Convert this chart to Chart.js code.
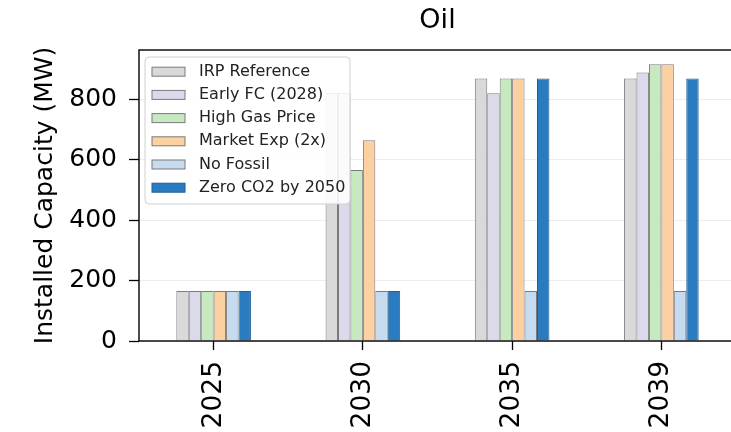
<!DOCTYPE html>
<html>
<head>
<meta charset="utf-8">
<title>Oil</title>
<script src="https://cdn.jsdelivr.net/npm/chart.js@4/dist/chart.umd.min.js"></script>
<style>
  html, body { margin: 0; padding: 0; overflow: hidden; background: #fff; }
  #wrap { width: 741px; height: 432px; }
</style>
</head>
<body>
<div id="wrap"><canvas id="c" width="741" height="432"></canvas></div>
<script>
// Installed oil capacity (MW) by scenario and year
const categories = ['2025', '2030', '2035', '2039'];
const irpReference = [165, 820, 868, 868];
const earlyFC      = [165, 820, 819, 888];
const highGasPrice = [165, 565, 868, 915];
const marketExp2x  = [165, 664, 868, 915];
const noFossil     = [165, 165, 165, 165];
const zeroCO2_2050 = [165, 165, 868, 868];

const seriesNames = ['IRP Reference', 'Early FC (2028)', 'High Gas Price', 'Market Exp (2x)', 'No Fossil', 'Zero CO2 by 2050'];
const seriesValues = [irpReference, earlyFC, highGasPrice, marketExp2x, noFossil, zeroCO2_2050];
const fillColors = ['#d9d9d9', '#dadaeb', '#c7e9c0', '#fdd0a2', '#c6dbef', '#2b7bc0'];
const edgeColors = ['#7a7a7a', '#7a7a7a', '#7a7a7a', '#7a7a7a', '#7a7a7a', '#1f5f96'];

const yTickValues = [0, 200, 400, 600, 800];
const yMax = 962;

const FONT = "'DejaVu Sans', sans-serif";

const whiteBackground = {
  id: 'whiteBackground',
  beforeDraw(chart) {
    const ctx = chart.ctx;
    ctx.save();
    ctx.fillStyle = '#ffffff';
    ctx.fillRect(0, 0, chart.width, chart.height);
    ctx.restore();
  }
};

// axes frame plus a boxed legend in the upper-left corner of the plot
const frameAndLegend = {
  id: 'frameAndLegend',
  afterDatasetsDraw(chart) {
    const ctx = chart.ctx;
    const a = chart.chartArea;
    ctx.save();
    ctx.strokeStyle = '#000';
    ctx.lineWidth = 1.4;
    ctx.strokeRect(a.left, a.top, a.right - a.left, a.bottom - a.top);

    const bx = a.left + 6, by = a.top + 7, bw = 205, bh = 147, r = 4;
    ctx.beginPath();
    ctx.moveTo(bx + r, by);
    ctx.arcTo(bx + bw, by, bx + bw, by + bh, r);
    ctx.arcTo(bx + bw, by + bh, bx, by + bh, r);
    ctx.arcTo(bx, by + bh, bx, by, r);
    ctx.arcTo(bx, by, bx + bw, by, r);
    ctx.closePath();
    ctx.fillStyle = 'rgba(255,255,255,0.88)';
    ctx.fill();
    ctx.strokeStyle = '#d0d0d0';
    ctx.lineWidth = 1;
    ctx.stroke();

    ctx.font = '16px ' + FONT;
    ctx.textBaseline = 'middle';
    ctx.textAlign = 'left';
    chart.data.datasets.forEach((ds, i) => {
      const cy = by + 14.7 + i * 23.2;
      ctx.fillStyle = ds.backgroundColor;
      ctx.fillRect(bx + 7, cy - 4.5, 33, 9);
      ctx.strokeStyle = ds.borderColor;
      ctx.lineWidth = 1;
      ctx.strokeRect(bx + 7, cy - 4.5, 33, 9);
      ctx.fillStyle = '#222';
      ctx.fillText(ds.label, bx + 54, cy);
    });
    ctx.restore();
  }
};

new Chart(document.getElementById('c'), {
  type: 'bar',
  data: {
    labels: categories,
    datasets: seriesNames.map((name, i) => ({
      label: name,
      data: seriesValues[i],
      backgroundColor: fillColors[i],
      borderColor: edgeColors[i],
      borderWidth: 1,
      categoryPercentage: 0.5,
      barPercentage: 1.0
    }))
  },
  options: {
    responsive: false,
    animation: false,
    devicePixelRatio: 1,
    layout: { padding: { left: 0, right: 5, top: 0, bottom: 0 } },
    plugins: {
      legend: { display: false },
      tooltip: { enabled: false },
      title: {
        display: true,
        text: 'Oil',
        fullSize: false,
        color: '#000',
        font: { family: FONT, size: 27, weight: 'normal' },
        padding: { top: 5, bottom: 12.6 }
      }
    },
    scales: {
      x: {
        offset: true,
        border: { display: false },
        grid: {
          display: true,
          drawOnChartArea: false,
          offset: false,
          tickColor: '#000',
          tickWidth: 1.3,
          tickLength: 9
        },
        ticks: {
          color: '#000',
          font: { family: FONT, size: 26.5 },
          minRotation: 90,
          maxRotation: 90,
          padding: 11
        },
        afterFit(scale) { scale.height = 91; }
      },
      y: {
        min: 0,
        max: yMax,
        border: { display: false },
        grid: {
          color: 'rgba(0,0,0,0.07)',
          lineWidth: 1,
          tickColor: '#000',
          tickWidth: 1.3,
          tickLength: 10
        },
        ticks: {
          color: '#000',
          font: { family: FONT, size: 25 },
          padding: 12
        },
        afterBuildTicks(scale) {
          scale.ticks = yTickValues.map(v => ({ value: v }));
        },
        title: {
          display: true,
          text: 'Installed Capacity (MW)',
          color: '#000',
          font: { family: FONT, size: 25 },
          padding: { top: 30, bottom: 0 }
        },
        afterFit(scale) { scale.width = 139; }
      }
    }
  },
  plugins: [whiteBackground, frameAndLegend]
});
</script>
</body>
</html>
